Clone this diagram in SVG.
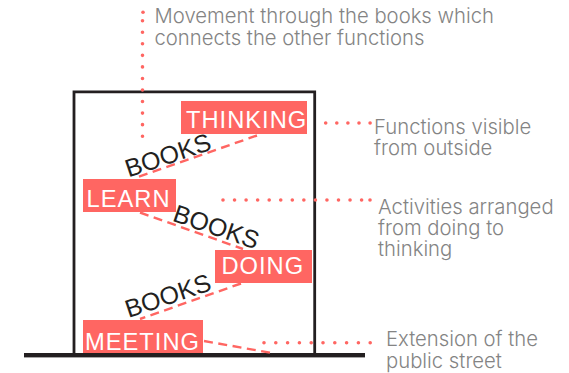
<svg xmlns="http://www.w3.org/2000/svg" width="569" height="373" viewBox="0 0 569 373">
<style>
.box{fill:#ff6662}
.lbl{font-family:"Liberation Sans",Arial,sans-serif;font-size:23.7px;fill:#fff;letter-spacing:1px}
.bk{font-family:"Liberation Sans",Arial,sans-serif;font-size:25px;fill:#231f20}
.note{font-family:"Inter","Liberation Sans",sans-serif;font-weight:300;font-size:20.3px;fill:#848484}
.dot{fill:none;stroke:#ff6662;stroke-width:3.6;stroke-linecap:round}
.dash{fill:none;stroke:#ff6662;stroke-width:2.4;stroke-dasharray:9 5.5}
.wall{fill:none;stroke:#231f20;stroke-width:2.8}
</style>
<rect width="569" height="373" fill="#fff"/>
<g id="building">
<path class="wall" d="M74 354V91.800H314.700V354"/>
<rect x="24" y="353" width="341" height="4.400" fill="#231f20"/>
</g>
<g id="connectors">
<path class="dot" stroke-dasharray="0 11.55" d="M142.500 20.700V137"/>
<path class="dot" d="M143 12.300h.01"/>
<path class="dot" stroke-dasharray="0 11.100" d="M325.700 123H371"/>
<path class="dot" stroke-dasharray="0 11.55" d="M223 200H362"/>
<path class="dot" d="M370 200h.01"/>
<path class="dot" stroke-dasharray="0 11.800" d="M264 342.800H371"/>
<path class="dash" d="M257 135.500L135 178"/>
<path class="dash" d="M140 212.500L243 249"/>
<path class="dash" d="M241 283.500L140 319"/>
<path class="dash" d="M204 341L272 353"/>
</g>
<g id="thinking"><rect class="box" x="181" y="101" width="126" height="33"/><text class="lbl" x="186" y="128.300">THINKING</text></g>
<g id="learn"><rect class="box" x="83" y="179" width="93" height="33"/><text class="lbl" x="86.500" y="206.700">LEARN</text></g>
<g id="doing"><rect class="box" x="215" y="250" width="97" height="33"/><text class="lbl" x="221.500" y="274.300">DOING</text></g>
<g id="meeting"><rect class="box" x="83" y="320" width="120" height="33"/><text class="lbl" x="85" y="350">MEETING</text></g>
<g id="books-1"><text class="bk" transform="translate(128.500 177.500) rotate(-18.500)">BOOKS</text></g>
<g id="books-2"><text class="bk" transform="translate(171.500 220.500) rotate(19)">BOOKS</text></g>
<g id="books-3"><text class="bk" transform="translate(128.500 318) rotate(-18.500)">BOOKS</text></g>
<g id="note-movement"><text class="note" x="154.500" y="23">Movement through the books which</text><text class="note" x="154.500" y="44.800">connects the other functions</text></g>
<g id="note-functions"><text class="note" x="374" y="134">Functions visible</text><text class="note" x="374" y="155">from outside</text></g>
<g id="note-activities"><text class="note" x="378" y="214.300">Activities arranged</text><text class="note" x="378" y="235.300">from doing to</text><text class="note" x="378" y="256">thinking</text></g>
<g id="note-extension"><text class="note" x="386" y="346">Extension of the</text><text class="note" x="386" y="367.700">public street</text></g>
</svg>
